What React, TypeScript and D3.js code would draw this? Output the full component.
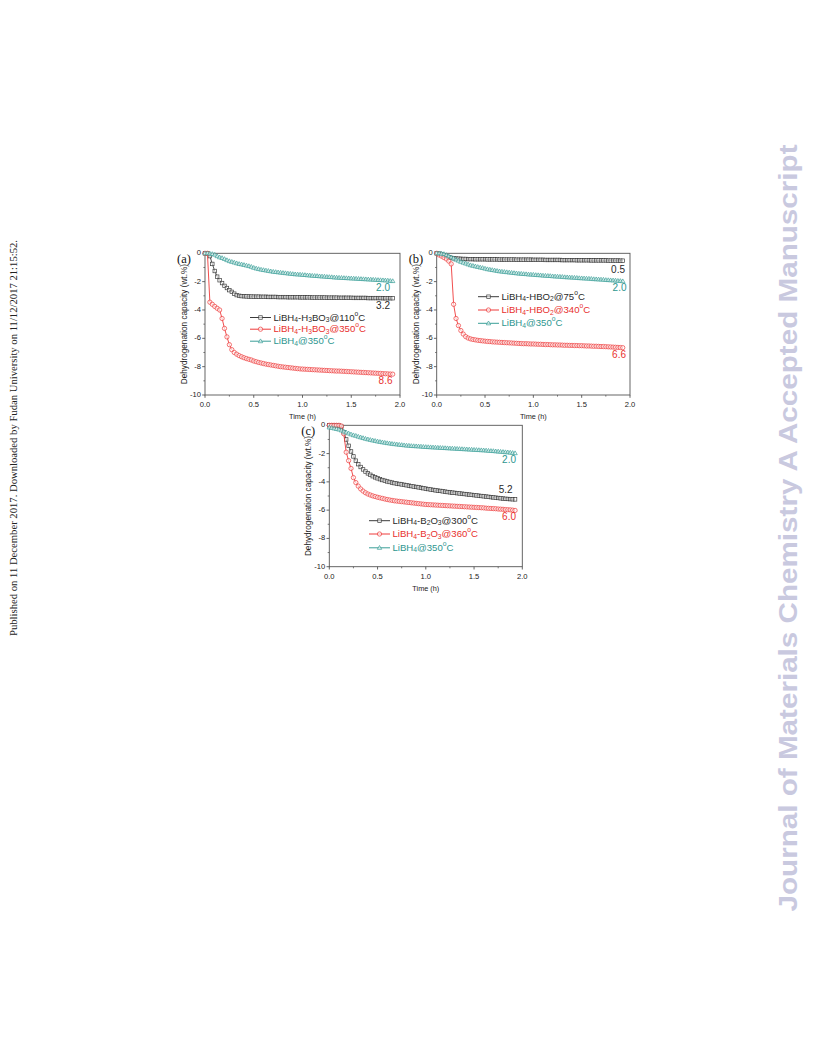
import React from 'react';
import * as d3 from 'd3';

// ---------- data ----------
const TIME = [
  0, 0.025, 0.05, 0.075, 0.1, 0.125, 0.15, 0.175, 0.2, 0.225,
  0.25, 0.275, 0.3, 0.325, 0.35, 0.375, 0.4, 0.425, 0.45, 0.475,
  0.5, 0.525, 0.55, 0.575, 0.6, 0.625, 0.65, 0.675, 0.7, 0.725,
  0.75, 0.775, 0.8, 0.825, 0.85, 0.875, 0.9, 0.925, 0.95, 0.975,
  1.0, 1.025, 1.05, 1.075, 1.1, 1.125, 1.15, 1.175, 1.2, 1.225,
  1.25, 1.275, 1.3, 1.325, 1.35, 1.375, 1.4, 1.425, 1.45, 1.475,
  1.5, 1.525, 1.55, 1.575, 1.6, 1.625, 1.65, 1.675, 1.7, 1.725,
  1.75, 1.775, 1.8, 1.825, 1.85, 1.875, 1.9, 1.925,
];

// panel (a)
const A_BLACK = [
  0, 0, -0.2, -0.75, -1.25, -1.65, -1.9, -2.1, -2.3, -2.45,
  -2.6, -2.72, -2.85, -2.95, -3.0, -3.02, -3.03, -3.04, -3.05, -3.05,
  -3.06, -3.06, -3.06, -3.07, -3.07, -3.07, -3.08, -3.08, -3.08, -3.08,
  -3.09, -3.09, -3.09, -3.09, -3.1, -3.1, -3.1, -3.1, -3.1, -3.11,
  -3.11, -3.11, -3.11, -3.11, -3.12, -3.12, -3.12, -3.12, -3.12, -3.12,
  -3.13, -3.13, -3.13, -3.13, -3.13, -3.14, -3.14, -3.14, -3.14, -3.14,
  -3.14, -3.15, -3.15, -3.15, -3.15, -3.15, -3.15, -3.16, -3.16, -3.16,
  -3.16, -3.16, -3.16, -3.17, -3.17, -3.17, -3.17, -3.17,
];
const A_RED = [
  0, 0, -3.45, -3.6, -3.75, -3.88, -4.0, -4.6, -5.3, -5.9,
  -6.45, -6.8, -7.0, -7.12, -7.22, -7.3, -7.37, -7.43, -7.48, -7.53,
  -7.6, -7.65, -7.7, -7.74, -7.78, -7.82, -7.85, -7.88, -7.91, -7.94,
  -7.97, -8.0, -8.02, -8.04, -8.06, -8.08, -8.1, -8.12, -8.14, -8.16,
  -8.17, -8.18, -8.19, -8.2, -8.21, -8.22, -8.23, -8.24, -8.25, -8.26,
  -8.27, -8.28, -8.29, -8.3, -8.31, -8.31, -8.32, -8.33, -8.34, -8.35,
  -8.36, -8.37, -8.38, -8.39, -8.4, -8.41, -8.42, -8.43, -8.44, -8.45,
  -8.46, -8.47, -8.48, -8.49, -8.5, -8.51, -8.52, -8.53,
];
const A_TEAL = [
  0, 0, -0.02, -0.05, -0.1, -0.2, -0.28, -0.33, -0.4, -0.48,
  -0.55, -0.6, -0.65, -0.7, -0.75, -0.78, -0.82, -0.86, -0.9, -0.95,
  -1.02, -1.07, -1.11, -1.15, -1.18, -1.21, -1.24, -1.27, -1.3, -1.32,
  -1.34, -1.36, -1.38, -1.4, -1.42, -1.44, -1.46, -1.48, -1.49, -1.5,
  -1.52, -1.53, -1.55, -1.56, -1.58, -1.59, -1.6, -1.62, -1.63, -1.64,
  -1.66, -1.67, -1.68, -1.7, -1.71, -1.72, -1.73, -1.74, -1.75, -1.76,
  -1.77, -1.78, -1.79, -1.8, -1.81, -1.82, -1.83, -1.84, -1.85, -1.86,
  -1.87, -1.88, -1.89, -1.9, -1.91, -1.92, -1.94, -1.96,
];

// panel (b)
const B_BLACK = [
  0, -0.02, -0.08, -0.15, -0.22, -0.28, -0.32, -0.35, -0.37, -0.38,
  -0.39, -0.4, -0.4, -0.41, -0.41, -0.41, -0.42, -0.42, -0.42, -0.42,
  -0.42, -0.43, -0.43, -0.43, -0.43, -0.43, -0.44, -0.44, -0.44, -0.44,
  -0.44, -0.44, -0.44, -0.45, -0.45, -0.45, -0.45, -0.45, -0.45, -0.45,
  -0.46, -0.46, -0.46, -0.46, -0.46, -0.47, -0.47, -0.47, -0.47, -0.47,
  -0.47, -0.47, -0.48, -0.48, -0.48, -0.48, -0.48, -0.48, -0.49, -0.49,
  -0.49, -0.49, -0.49, -0.49, -0.5, -0.5, -0.5, -0.5, -0.5, -0.5,
  -0.5, -0.51, -0.51, -0.51, -0.51, -0.51, -0.52, -0.52,
];
const B_RED = [
  0, -0.12, -0.2, -0.3, -0.4, -0.55, -0.75, -3.6, -4.6, -5.1,
  -5.45, -5.7, -5.88, -5.98, -6.04, -6.08, -6.11, -6.14, -6.16, -6.18,
  -6.2, -6.22, -6.23, -6.25, -6.26, -6.27, -6.28, -6.29, -6.3, -6.31,
  -6.32, -6.33, -6.34, -6.35, -6.36, -6.37, -6.38, -6.38, -6.39, -6.4,
  -6.4, -6.41, -6.42, -6.42, -6.43, -6.44, -6.44, -6.45, -6.46, -6.46,
  -6.47, -6.47, -6.48, -6.49, -6.49, -6.5, -6.5, -6.51, -6.51, -6.52,
  -6.52, -6.53, -6.54, -6.54, -6.55, -6.56, -6.56, -6.57, -6.58, -6.58,
  -6.59, -6.6, -6.61, -6.62, -6.63, -6.64, -6.65, -6.66,
];
const B_TEAL = [
  0, 0, -0.02, -0.05, -0.12, -0.2, -0.28, -0.36, -0.45, -0.52,
  -0.6, -0.66, -0.72, -0.78, -0.84, -0.88, -0.92, -0.96, -1.0, -1.03,
  -1.08, -1.12, -1.15, -1.18, -1.21, -1.24, -1.27, -1.29, -1.31, -1.33,
  -1.35, -1.37, -1.39, -1.41, -1.43, -1.44, -1.46, -1.47, -1.49, -1.5,
  -1.51, -1.53, -1.54, -1.55, -1.57, -1.58, -1.59, -1.6, -1.62, -1.63,
  -1.64, -1.65, -1.66, -1.68, -1.69, -1.7, -1.71, -1.72, -1.73, -1.75,
  -1.76, -1.77, -1.78, -1.79, -1.8, -1.82, -1.83, -1.84, -1.85, -1.86,
  -1.88, -1.89, -1.9, -1.91, -1.92, -1.94, -1.95, -1.97,
];

// panel (c)
const C_BLACK = [
  0, 0, 0, 0, -0.02, -0.1, -0.5, -1.0, -1.45, -1.85,
  -2.2, -2.5, -2.75, -2.95, -3.12, -3.27, -3.4, -3.5, -3.6, -3.68,
  -3.75, -3.81, -3.87, -3.92, -3.97, -4.01, -4.05, -4.09, -4.12, -4.15,
  -4.18, -4.21, -4.24, -4.27, -4.3, -4.33, -4.36, -4.39, -4.42, -4.45,
  -4.48, -4.51, -4.54, -4.57, -4.6, -4.62, -4.64, -4.67, -4.69, -4.72,
  -4.74, -4.76, -4.78, -4.8, -4.82, -4.84, -4.86, -4.88, -4.9, -4.92,
  -4.94, -4.96, -4.98, -5.0, -5.02, -5.04, -5.06, -5.08, -5.1, -5.12,
  -5.14, -5.16, -5.18, -5.2, -5.21, -5.22, -5.23, -5.24,
];
const C_RED = [
  0, 0, 0, 0, 0, -0.05, -0.6, -1.9, -2.5, -3.05,
  -3.7, -4.05, -4.3, -4.5, -4.65, -4.77, -4.86, -4.93, -4.99, -5.04,
  -5.09, -5.13, -5.17, -5.21, -5.25, -5.28, -5.31, -5.34, -5.36, -5.38,
  -5.4, -5.42, -5.44, -5.46, -5.48, -5.5, -5.52, -5.54, -5.56, -5.58,
  -5.6, -5.61, -5.62, -5.63, -5.64, -5.65, -5.66, -5.67, -5.68, -5.69,
  -5.7, -5.71, -5.72, -5.73, -5.74, -5.75, -5.76, -5.77, -5.78, -5.79,
  -5.8, -5.81, -5.82, -5.83, -5.84, -5.86, -5.87, -5.88, -5.89, -5.9,
  -5.92, -5.93, -5.94, -5.96, -5.97, -5.98, -6.0, -6.02,
];
const C_TEAL = [
  -0.15, -0.18, -0.22, -0.26, -0.3, -0.36, -0.43, -0.5, -0.57, -0.64,
  -0.7, -0.74, -0.8, -0.85, -0.9, -0.95, -0.99, -1.03, -1.07, -1.1,
  -1.14, -1.17, -1.2, -1.23, -1.26, -1.28, -1.31, -1.33, -1.35, -1.37,
  -1.39, -1.41, -1.43, -1.44, -1.46, -1.47, -1.48, -1.49, -1.5, -1.52,
  -1.53, -1.54, -1.55, -1.56, -1.57, -1.58, -1.59, -1.6, -1.61, -1.62,
  -1.63, -1.64, -1.65, -1.66, -1.67, -1.68, -1.69, -1.7, -1.71, -1.72,
  -1.73, -1.74, -1.75, -1.76, -1.77, -1.78, -1.8, -1.81, -1.82, -1.84,
  -1.85, -1.87, -1.88, -1.9, -1.91, -1.93, -1.95, -1.97,
];

const X_TICKS = [0, 0.5, 1.0, 1.5, 2.0];
const X_MINOR = [0.25, 0.75, 1.25, 1.75];
const Y_TICKS = [0, -2, -4, -6, -8, -10];
const Y_MINOR = [-1, -3, -5, -7, -9];

type Seg = [string, number];
const A_LEGEND: Seg[][] = [
  [['LiBH', 0], ['4', 1], ['-H', 0], ['3', 1], ['BO', 0], ['3', 1], ['@110', 0], ['o', -1], ['C', 0]],
  [['LiBH', 0], ['4', 1], ['-H', 0], ['3', 1], ['BO', 0], ['3', 1], ['@350', 0], ['o', -1], ['C', 0]],
  [['LiBH', 0], ['4', 1], ['@350', 0], ['o', -1], ['C', 0]],
];
const B_LEGEND: Seg[][] = [
  [['LiBH', 0], ['4', 1], ['-HBO', 0], ['2', 1], ['@75', 0], ['o', -1], ['C', 0]],
  [['LiBH', 0], ['4', 1], ['-HBO', 0], ['2', 1], ['@340', 0], ['o', -1], ['C', 0]],
  [['LiBH', 0], ['4', 1], ['@350', 0], ['o', -1], ['C', 0]],
];
const C_LEGEND: Seg[][] = [
  [['LiBH', 0], ['4', 1], ['-B', 0], ['2', 1], ['O', 0], ['3', 1], ['@300', 0], ['o', -1], ['C', 0]],
  [['LiBH', 0], ['4', 1], ['-B', 0], ['2', 1], ['O', 0], ['3', 1], ['@360', 0], ['o', -1], ['C', 0]],
  [['LiBH', 0], ['4', 1], ['@350', 0], ['o', -1], ['C', 0]],
];
const A_END = ['3.2', '8.6', '2.0'];
const B_END = ['0.5', '6.6', '2.0'];
const C_END = ['5.2', '6.0', '2.0'];

// ---------- style ----------
const COLORS = ['#3c3c3c', '#ee3a3a', '#3a9f98'];
const TEXT_COLORS = ['#2a2a2a', '#e8302e', '#2e968f'];
const MARKERS = ['square', 'circle', 'triangle'];
const FONT = 'Arial, "Liberation Sans", Helvetica, sans-serif';
const AXIS = '#555';

type PanelCfg = {
  label: string;
  left: number; right: number; top: number; bottom: number;
  series: number[][];
  legend: Seg[][];
  legendY: number[];
  legendX: number;
  ends: string[];
  endX: number[];
  endY: number[];
};

const PANELS: PanelCfg[] = [
  {
    label: '(a)', left: 205, right: 400, top: 253.3, bottom: 395,
    series: [A_BLACK, A_RED, A_TEAL], legend: A_LEGEND,
    legendY: [317.5, 329.2, 341.2], legendX: 250,
    ends: A_END, endX: [390, 392.5, 390], endY: [306.7, 381.2, 288.3],
  },
  {
    label: '(b)', left: 436.7, right: 630, top: 253.3, bottom: 395,
    series: [B_BLACK, B_RED, B_TEAL], legend: B_LEGEND,
    legendY: [296.7, 310, 323.3], legendX: 478,
    ends: B_END, endX: [625, 626, 626.5], endY: [270, 355.7, 288.3],
  },
  {
    label: '(c)', left: 329.3, right: 522.3, top: 425.3, bottom: 566.7,
    series: [C_BLACK, C_RED, C_TEAL], legend: C_LEGEND,
    legendY: [520.7, 534, 547.8], legendX: 369,
    ends: C_END, endX: [512.7, 516, 516], endY: [490.3, 517.3, 460.7],
  },
];

function Marker({ kind, x, y, color }: { kind: string; x: number; y: number; color: string }) {
  if (kind === 'square') {
    const s = 3.5;
    return <rect x={x - s / 2} y={y - s / 2} width={s} height={s} fill="white" fillOpacity={0.6} stroke={color} strokeWidth={0.7} />;
  }
  if (kind === 'circle') {
    return <circle cx={x} cy={y} r={2.15} fill="white" fillOpacity={0.6} stroke={color} strokeWidth={0.7} />;
  }
  const h = 3.8;
  const w = 4.4;
  const d = `M${x},${y - h * 0.6}L${x + w / 2},${y + h * 0.4}L${x - w / 2},${y + h * 0.4}Z`;
  return <path d={d} fill="white" fillOpacity={0.6} stroke={color} strokeWidth={0.7} />;
}

function RichText({ segs, x, y, size, fill }: { segs: Seg[]; x: number; y: number; size: number; fill: string }) {
  let cur = 0;
  return (
    <text x={x} y={y} fontSize={size} fill={fill} fontFamily={FONT} dominantBaseline="middle">
      {segs.map(([s, k], i) => {
        const target = k === 1 ? size * 0.28 : k === -1 ? -size * 0.4 : 0;
        const dy = target - cur;
        cur = target;
        return (
          <tspan key={i} dy={dy} fontSize={k ? size * 0.7 : size}>
            {s}
          </tspan>
        );
      })}
    </text>
  );
}

function Panel({ p }: { p: PanelCfg }) {
  const x = d3.scaleLinear().domain([0, 2]).range([p.left, p.right]);
  const y = d3.scaleLinear().domain([0, -10]).range([p.top, p.bottom]);
  const line = d3
    .line<number>()
    .x((_, i) => x(TIME[i]))
    .y((d) => y(d));
  const midY = (p.top + p.bottom) / 2;
  const midX = (p.left + p.right) / 2;
  return (
    <g>
      {/* frame */}
      <rect x={p.left} y={p.top} width={p.right - p.left} height={p.bottom - p.top} fill="none" stroke={AXIS} strokeWidth={0.9} />
      {X_TICKS.map((t) => (
        <g key={'xt' + t}>
          <line x1={x(t)} x2={x(t)} y1={p.bottom} y2={p.bottom + 2.8} stroke={AXIS} strokeWidth={0.9} />
          <text x={x(t)} y={p.bottom + 11.8} fontSize={7.6} textAnchor="middle" fontFamily={FONT} fill="#222">
            {t.toFixed(1)}
          </text>
        </g>
      ))}
      {X_MINOR.map((t) => (
        <line key={'xm' + t} x1={x(t)} x2={x(t)} y1={p.bottom} y2={p.bottom + 1.6} stroke={AXIS} strokeWidth={0.8} />
      ))}
      {Y_TICKS.map((t) => (
        <g key={'yt' + t}>
          <line x1={p.left - 2.8} x2={p.left} y1={y(t)} y2={y(t)} stroke={AXIS} strokeWidth={0.9} />
          <text x={p.left - 4} y={y(t)} fontSize={7.6} textAnchor="end" dominantBaseline="middle" fontFamily={FONT} fill="#222">
            {t}
          </text>
        </g>
      ))}
      {Y_MINOR.map((t) => (
        <line key={'ym' + t} x1={p.left - 1.6} x2={p.left} y1={y(t)} y2={y(t)} stroke={AXIS} strokeWidth={0.8} />
      ))}
      <text x={midX} y={p.bottom + 23.8} fontSize={7.3} textAnchor="middle" fontFamily={FONT} fill="#222">
        Time (h)
      </text>
      <text
        transform={`translate(${p.left - 20},${midY}) rotate(-90)`}
        fontSize={8.2}
        textAnchor="middle"
        dominantBaseline="middle"
        fontFamily={FONT}
        fill="#222"
      >
        Dehydrogenation capacity (wt.%)
      </text>
      <text x={p.left - 28} y={p.top + 10} fontSize={12.5} fontFamily='"Liberation Serif", "Times New Roman", serif' fill="#111">
        {p.label}
      </text>
      {/* series */}
      {p.series.map((vals, si) => (
        <g key={'s' + si}>
          <path d={line(vals) || ''} fill="none" stroke={COLORS[si]} strokeWidth={0.9} />
          {vals.map((v, i) => (
            <Marker key={i} kind={MARKERS[si]} x={x(TIME[i])} y={y(v)} color={COLORS[si]} />
          ))}
        </g>
      ))}
      {/* legend */}
      {p.legend.map((segs, i) => (
        <g key={'l' + i}>
          <line x1={p.legendX} x2={p.legendX + 21} y1={p.legendY[i]} y2={p.legendY[i]} stroke={COLORS[i]} strokeWidth={1} />
          <Marker kind={MARKERS[i]} x={p.legendX + 10.5} y={p.legendY[i]} color={COLORS[i]} />
          <RichText segs={segs} x={p.legendX + 23.5} y={p.legendY[i]} size={9.6} fill={TEXT_COLORS[i]} />
        </g>
      ))}
      {/* end values */}
      {p.ends.map((s, i) => (
        <text key={'e' + i} x={p.endX[i]} y={p.endY[i]} fontSize={10} textAnchor="end" dominantBaseline="middle" fontFamily={FONT} fill={TEXT_COLORS[i]}>
          {s}
        </text>
      ))}
    </g>
  );
}

export default function App() {
  return (
    <svg width={816} height={1056} style={{ position: 'absolute', left: 0, top: 0, background: 'white' }}>
      <rect x={0} y={0} width={816} height={1056} fill="white" />
      <text
        transform="translate(17,438) rotate(-90)"
        fontSize={10.5}
        textAnchor="middle"
        fontFamily='"Liberation Serif", "Times New Roman", serif'
        fill="#222"
        textLength={396}
        lengthAdjust="spacingAndGlyphs"
      >
        Published on 11 December 2017. Downloaded by Fudan University on 11/12/2017 21:15:52.
      </text>
      <text
        transform="translate(797,528) rotate(-90)"
        fontSize={25.5}
        fontWeight="bold"
        textAnchor="middle"
        fontFamily={FONT}
        fill="#c9c9df"
        textLength={767}
        lengthAdjust="spacingAndGlyphs"
      >
        Journal of Materials Chemistry A Accepted Manuscript
      </text>
      {PANELS.map((p) => (
        <Panel key={p.label} p={p} />
      ))}
    </svg>
  );
}
